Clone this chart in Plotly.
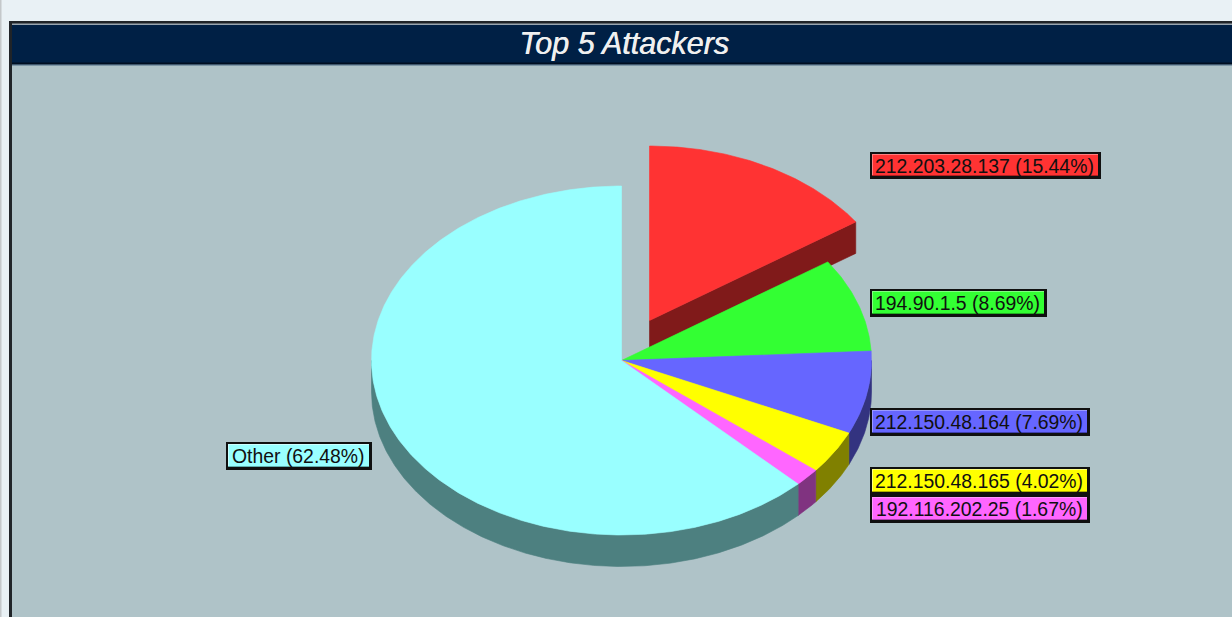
import numpy as np
import plotly.graph_objects as go

# --- data ---
labels = ["212.203.28.137", "194.90.1.5", "212.150.48.164", "212.150.48.165", "192.116.202.25", "Other"]
shares = [15.44, 8.69, 7.69, 4.02, 1.67, 62.48]
title_text = "Top 5 Attackers"

# --- styles ---
top_colors = ["#FF3333", "#33FF33", "#6666FF", "#FFFF00", "#FF66FF", "#99FFFF"]
side_colors = ["#801A1A", "#1A801A", "#333380", "#808000", "#803380", "#4D8080"]
light_colors = ["#FF8080", "#80FF80", "#9999FF", "#FFFF80", "#FF99FF", "#CCFFFF"]
dark_colors = ["#B02020", "#20B020", "#4040B0", "#B0B000", "#B040B0", "#60B0B0"]
boxes = [(870, 152, 1101, 179), (870, 289, 1047, 317), (870, 408, 1090, 436),
         (870, 467, 1090, 495), (870, 495, 1090, 523), (226, 442, 372, 470)]
explode = [(28, -40), (0, 0), (0, 0), (0, 0), (0, 0), (0, 0)]
CX, CY, RX, RY, DEPTH = 621.5, 360.5, 250, 174.5, 31.5
PAGE, PANEL, HEADER = "#E9F1F5", "#AFC3C8", "#002045"


def arc(a0, a1, off, dy=0):
    t = np.radians(np.linspace(a0, a1, max(3, int(abs(a1 - a0) * 2) + 2)))
    return CX + off[0] + RX * np.sin(t), CY + off[1] + dy - RY * np.cos(t)


def poly(fig, x, y, color, name):
    fig.add_trace(go.Scatter(x=list(x), y=list(y), mode="lines", fill="toself", fillcolor=color,
                             line=dict(color=color, width=0.6), name=name, showlegend=False,
                             hoverinfo="name"))


fig = go.Figure()
total = sum(shares)
edges = np.concatenate([[0], np.cumsum(shares)]) / total * 360

for i in range(len(shares)):
    a0, a1 = edges[i], edges[i + 1]
    off = explode[i]
    ax, ay = CX + off[0], CY + off[1]
    name = f"{labels[i]} ({shares[i]:.2f}%)"
    # side wall (only the part of the rim facing the viewer)
    s0, s1 = max(a0, 90), min(a1, 270)
    if s1 > s0:
        xa, ya = arc(s0, s1, off)
        xb, yb = arc(s0, s1, off, DEPTH)
        poly(fig, np.r_[xa, xb[::-1], xa[0]], np.r_[ya, yb[::-1], ya[0]], side_colors[i], name)
    # cut face for the exploded slice
    if off != (0, 0):
        xe, ye = arc(a1, a1, off)
        poly(fig, [ax, xe[0], xe[0], ax, ax], [ay, ye[0], ye[0] + DEPTH, ay + DEPTH, ay], side_colors[i], name)
    # top
    xt, yt = arc(a0, a1, off)
    poly(fig, np.r_[ax, xt, ax], np.r_[ay, yt, ay], top_colors[i], name)

shapes = [
    dict(type="rect", layer="below", x0=0, x1=1232, y0=0, y1=617, fillcolor=PAGE, line_width=0),
    dict(type="rect", layer="below", x0=0, x1=1.5, y0=0, y1=617, fillcolor="#C4C8CA", line_width=0),
    dict(type="rect", layer="below", x0=9, x1=1232, y0=21, y1=617, fillcolor="#202428", line_width=0),
    dict(type="rect", layer="below", x0=12, x1=1232, y0=24, y1=617, fillcolor=PANEL, line_width=0),
    dict(type="rect", layer="below", x0=12, x1=1232, y0=24, y1=65, fillcolor=HEADER, line_width=0),
    dict(type="rect", layer="below", x0=12, x1=1232, y0=23.5, y1=25, fillcolor="#9AA6B0", line_width=0),
    dict(type="rect", layer="below", x0=12, x1=1232, y0=62.5, y1=64.5, fillcolor="#000F22", line_width=0),
    dict(type="rect", layer="below", x0=12, x1=1232, y0=64.5, y1=66, fillcolor="#7D96A6", line_width=0),
]

annotations = [dict(x=624, y=43, xref="x", yref="y", text=f"<i>{title_text}</i>", showarrow=False,
                    font=dict(family="Liberation Sans", size=30.5, color="#F0F0F0",
                              shadow="0.6px 0 0 #E8E8E8", lineposition="none"),
                    xanchor="center", yanchor="middle", width=216, align="center")]

for i, (x0, y0, x1, y1) in enumerate(boxes):
    shapes.append(dict(type="rect", layer="above", x0=x0, x1=x1, y0=y0, y1=y1,
                       fillcolor="#101010", line_width=0))
    shapes.append(dict(type="rect", layer="above", x0=x0 + 2, x1=x1 - 3, y0=y0 + 2, y1=y1 - 3,
                       fillcolor=top_colors[i], line_width=0))
    shapes.append(dict(type="rect", layer="above", x0=x0 + 2, x1=x1 - 3, y0=y0 + 2, y1=y0 + 3,
                       fillcolor=light_colors[i], line_width=0))
    shapes.append(dict(type="rect", layer="above", x0=x0 + 2, x1=x0 + 3, y0=y0 + 2, y1=y1 - 3,
                       fillcolor=light_colors[i], line_width=0))
    shapes.append(dict(type="rect", layer="above", x0=x0 + 2, x1=x1 - 3, y0=y1 - 4, y1=y1 - 3,
                       fillcolor=dark_colors[i], line_width=0))
    annotations.append(dict(x=(x0 + x1) / 2 - 1, y=(y0 + y1) / 2, xref="x", yref="y",
                            text=f"{labels[i]} ({shares[i]:.2f}%)", showarrow=False,
                            font=dict(family="Liberation Sans", size=19.4, color="#101010"),
                            xanchor="center", yanchor="middle"))

fig.update_layout(
    width=1232, height=617, margin=dict(l=0, r=0, t=0, b=0, pad=0),
    paper_bgcolor=PAGE, plot_bgcolor=PAGE,
    xaxis=dict(range=[0, 1232], visible=False, fixedrange=True),
    yaxis=dict(range=[617, 0], visible=False, fixedrange=True),
    shapes=shapes, annotations=annotations, showlegend=False,
)
fig.write_html("out.html", config=dict(displayModeBar=False), post_script="document.body.style.margin='0';")
